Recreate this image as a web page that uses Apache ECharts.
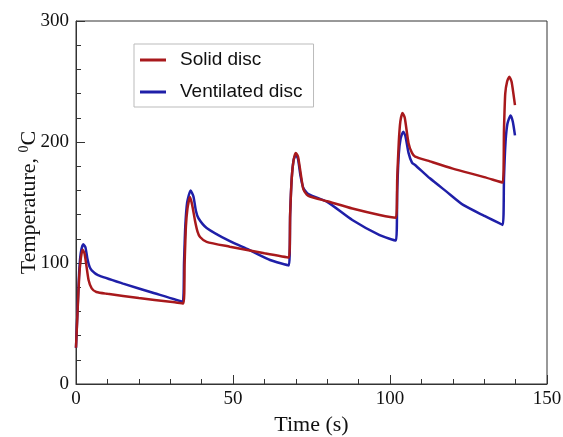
<!DOCTYPE html>
<html>
<head>
<meta charset="utf-8">
<script src="https://cdn.jsdelivr.net/npm/echarts@6/dist/echarts.min.js"></script>
<style>
  html, body { margin: 0; padding: 0; background: #fff; }
  #chart { width: 563px; height: 437px; }
</style>
</head>
<body>
<div id="chart"></div>
<script>
// Brake disc temperature over repeated braking cycles: [time (s), temperature (°C)]
const seriesNames = ['Solid disc', 'Ventilated disc'];

const solidDisc = [
  [0, 30], [0.5, 60], [1, 88], [1.5, 103], [2.1, 111], [2.7, 108], [3.3, 98], [4, 86],
  [5, 79], [6.5, 76], [10, 74.5], [20, 71], [30, 68], [34.2, 66.5],
  [34.6, 100], [35, 130], [35.5, 145], [36.3, 154.5], [37, 148], [37.9, 135], [38.7, 126],
  [39.5, 121.5], [41.6, 117.5], [49, 113.5], [60, 108], [67.8, 104.5],
  [68.2, 140], [68.7, 170], [69.3, 185], [70, 191], [70.7, 188], [71.5, 175], [72.4, 161],
  [73.5, 156.5], [74.5, 155], [80, 151], [88, 145], [96.7, 139.7], [101.9, 137.5],
  [102.3, 170], [102.8, 200], [103.3, 217], [104, 224], [104.7, 220], [105.9, 199],
  [107, 191], [108, 188], [112.7, 184], [120, 178], [130, 171], [135.9, 166.5],
  [136.3, 210], [136.7, 240], [137.3, 250], [138, 254], [138.7, 250], [139.3, 240], [139.8, 230.5]
];

const ventilatedDisc = [
  [0, 30], [0.5, 62], [1, 92], [1.5, 108], [2.3, 115.5], [3, 113], [3.6, 104], [4.3, 97],
  [5, 94], [7, 90], [15, 83], [25, 75], [34, 68],
  [34.4, 100], [34.8, 130], [35.4, 150], [36.5, 160], [37.4, 155], [38.2, 143], [39, 137],
  [41.6, 129], [49, 118], [55, 111], [61.8, 102.5], [67.8, 98],
  [68.2, 140], [68.7, 170], [69.3, 185], [70, 189.5], [70.7, 186], [71.5, 172], [72.4, 162],
  [74, 157], [80, 150.5], [88, 135.5], [96.7, 123], [101.9, 118.5],
  [102.3, 160], [102.8, 190], [103.4, 203], [104.2, 208.5], [104.9, 205], [105.9, 191],
  [107, 183], [108, 181], [112.7, 170], [118, 159], [123.3, 148], [130, 139], [135.9, 131.5],
  [136.3, 170], [136.8, 200], [137.4, 215], [138.4, 222], [139.1, 217], [139.8, 205.5]
];

const xTicks = { min: 0, max: 150, interval: 50 };
const yTicks = { min: 0, max: 300, interval: 100 };

const serif = 'Liberation Serif, Times New Roman, serif';
const sans = 'Liberation Sans, Arial, sans-serif';
const colors = ['#a8191c', '#1f1fa8'];

const chart = echarts.init(document.getElementById('chart'));
chart.setOption({
  animation: false,
  backgroundColor: '#fff',
  grid: {
    left: 76, right: 16, top: 21, bottom: 53,
    outerBoundsMode: 'none', containLabel: false,
    show: true, borderColor: '#333', borderWidth: 1, backgroundColor: 'transparent'
  },
  legend: {
    orient: 'vertical',
    left: 134, top: 44,
    padding: [6, 11, 5, 6],
    itemGap: 12,
    itemWidth: 26, itemHeight: 3,
    icon: 'rect',
    borderColor: '#bbb', borderWidth: 1,
    backgroundColor: '#fff',
    textStyle: { fontFamily: sans, fontSize: 19, lineHeight: 20, color: '#111', padding: [0, 0, 0, 9] },
    data: seriesNames
  },
  xAxis: {
    type: 'value',
    min: xTicks.min, max: xTicks.max, interval: xTicks.interval,
    name: 'Time (s)', nameLocation: 'middle', nameGap: 30, nameMoveOverlap: false,
    nameTextStyle: { fontFamily: serif, fontSize: 22, color: '#111' },
    axisLine: { lineStyle: { color: '#333', width: 1 } },
    axisTick: { inside: true, length: 9, lineStyle: { color: '#333' } },
    minorTick: { show: true, splitNumber: 5, length: 5, lineStyle: { color: '#333' } },
    axisLabel: { fontFamily: serif, fontSize: 19, color: '#111', margin: 6 },
    splitLine: { show: false }
  },
  yAxis: {
    type: 'value',
    min: yTicks.min, max: yTicks.max, interval: yTicks.interval,
    name: '{t|Temperature, }{s|0}{t|C}', nameLocation: 'middle', nameGap: 35, nameRotate: 90,
    nameMoveOverlap: false,
    nameTextStyle: {
      rich: {
        t: { fontFamily: serif, fontSize: 22, color: '#111' },
        s: { fontFamily: serif, fontSize: 14, color: '#111', verticalAlign: 'top', padding: [0, 0, 10, 0] }
      }
    },
    axisLine: { show: true, lineStyle: { color: '#333', width: 1 } },
    axisTick: { show: true, inside: true, length: 9, lineStyle: { color: '#333' } },
    minorTick: { show: true, splitNumber: 5, length: 5, lineStyle: { color: '#333' } },
    axisLabel: { fontFamily: serif, fontSize: 19, color: '#111', margin: 7 },
    splitLine: { show: false }
  },
  series: [
    {
      name: seriesNames[1], type: 'line', data: ventilatedDisc,
      showSymbol: false, smooth: 0.2,
      lineStyle: { color: colors[1], width: 2.5 }, itemStyle: { color: colors[1] }, z: 2
    },
    {
      name: seriesNames[0], type: 'line', data: solidDisc,
      showSymbol: false, smooth: 0.2,
      lineStyle: { color: colors[0], width: 2.5 }, itemStyle: { color: colors[0] }, z: 3
    }
  ]
});
</script>
</body>
</html>
